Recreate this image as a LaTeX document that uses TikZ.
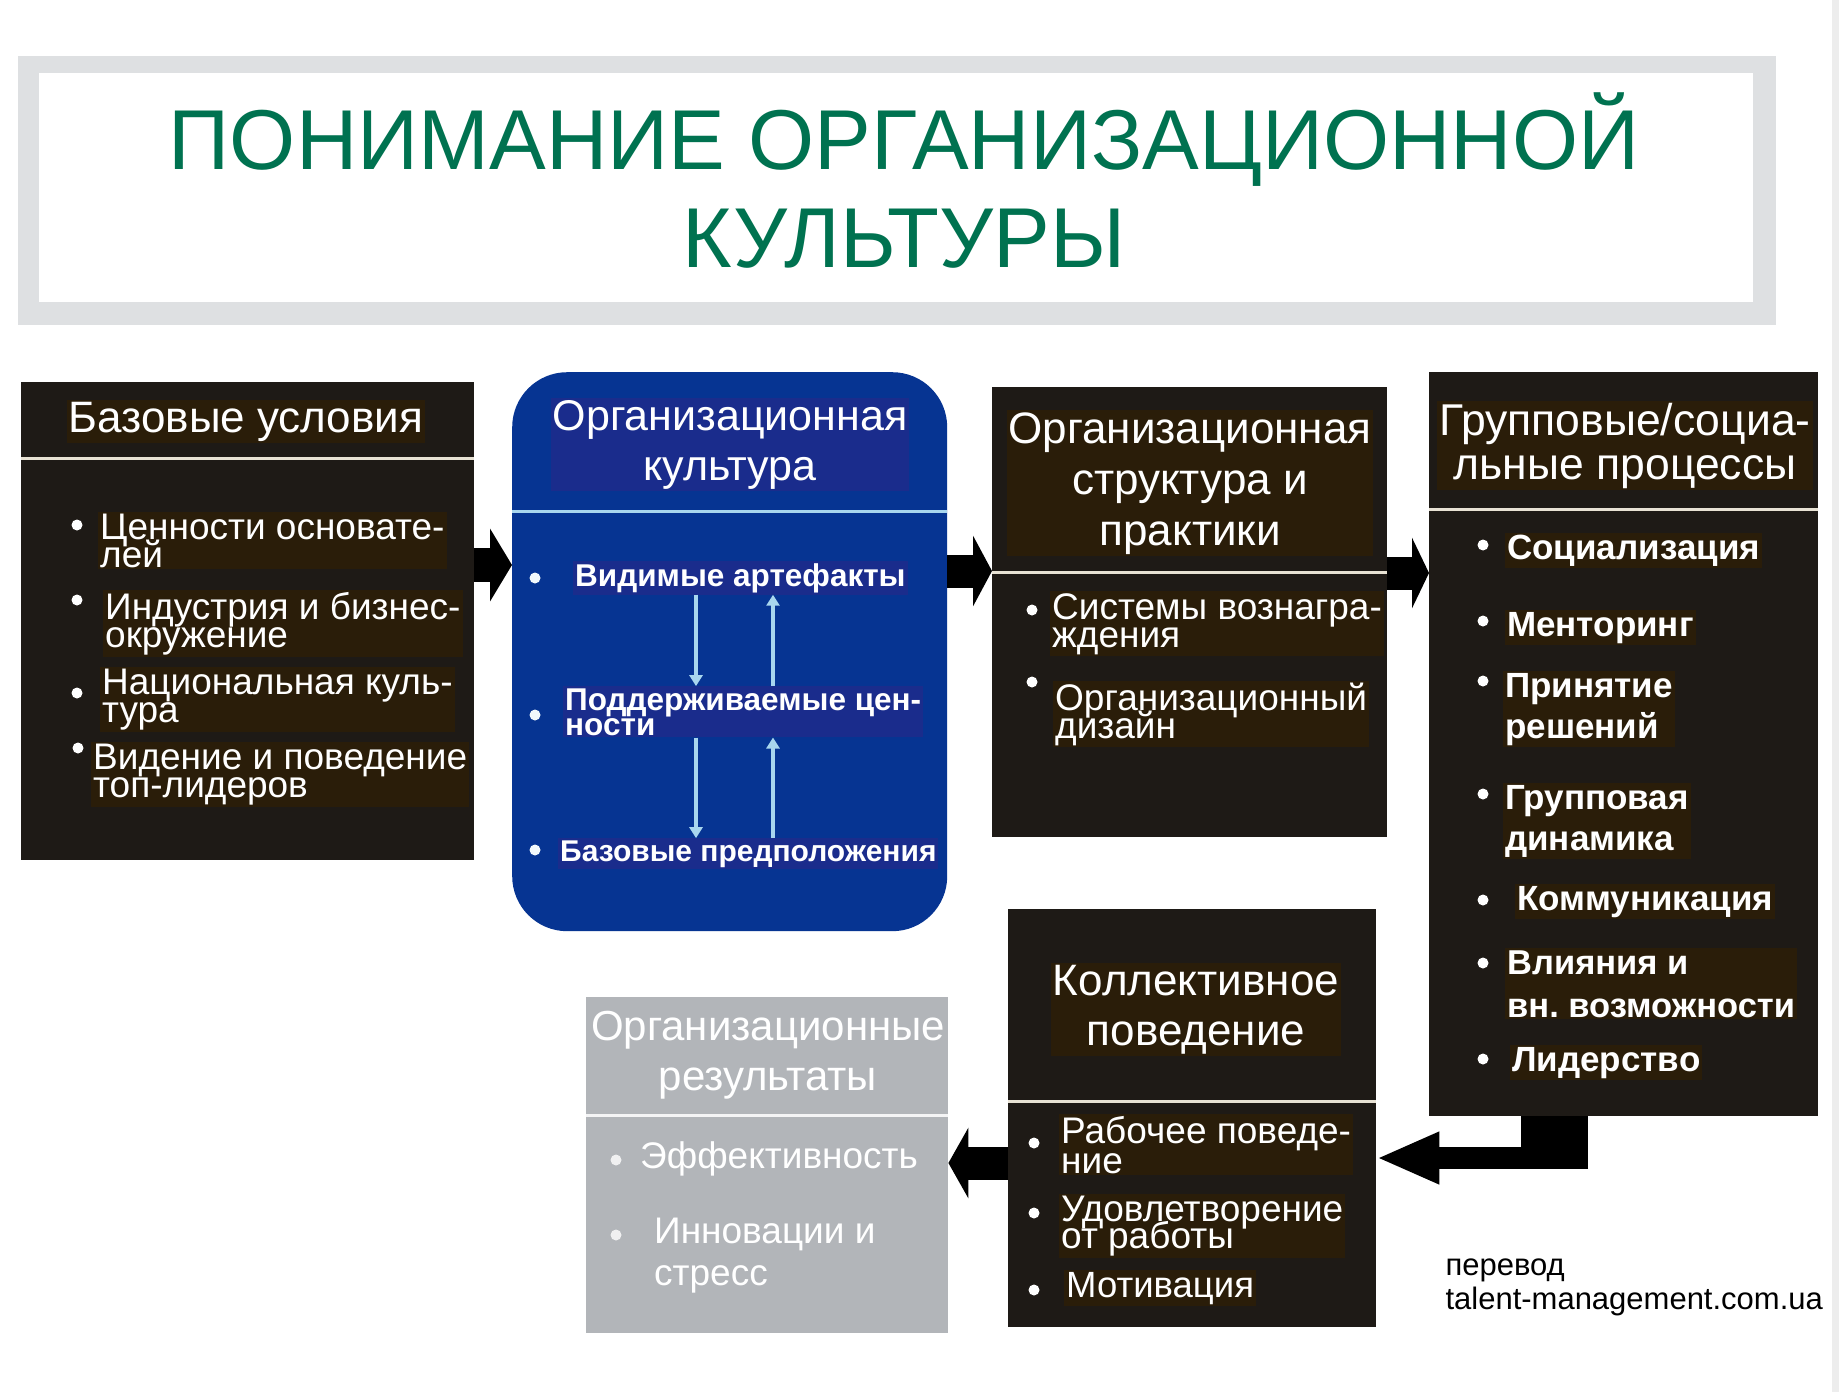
\documentclass[tikz,border=0pt]{standalone}
\usepackage{fontspec}
\setmainfont{Liberation Sans}
\usetikzlibrary{arrows.meta}

\definecolor{boxdark}{RGB}{30,26,22}
\definecolor{txtdark}{RGB}{42,29,9}
\definecolor{cultblue}{RGB}{6,52,146}
\definecolor{txtblue}{RGB}{26,44,140}
\definecolor{resgray}{RGB}{178,181,185}
\definecolor{titlegreen}{RGB}{0,114,80}
\definecolor{framegray}{RGB}{222,224,226}
\definecolor{arrowblue}{RGB}{168,214,238}
\definecolor{sepdark}{RGB}{232,226,212}

\newcommand{\setfs}[2]{\fontsize{#1}{#2}\selectfont\lineskiplimit=-200pt\relax}

\tikzset{
  darkbox/.style={fill=boxdark,inner sep=0pt,anchor=north west},
  hdr/.style={text=white,fill=txtdark,inner sep=2pt,align=center,anchor=base},
  item/.style={text=white,fill=txtdark,inner sep=2pt,align=left,anchor=base west,font=\setfs{37}{28}},
  blueitem/.style={item,fill=txtblue,font=\bfseries\setfs{31.5}{25}},
  groupitem/.style={item,font=\bfseries\setfs{35}{41}},
  sepline/.style={line width=3pt,sepdark},
  fatarrow/.style={line width=34pt,-{Triangle[length=22pt,width=72pt]}},
  thinarrow/.style={line width=3.5pt,arrowblue,-{Triangle[length=11pt,width=13pt]}}
}

\begin{document}
\begin{tikzpicture}[x=1pt,y=-1pt]
\useasboundingbox (0,0) rectangle (1839,1392);
\fill[white] (0,0) rectangle (1839,1392);
\fill[black!7] (1832,0) rectangle (1839,1392);

% Title
\fill[framegray] (18,56) rectangle (1776,325);
\fill[white] (39,73) rectangle (1753,302);
\node[anchor=base,align=center,text=titlegreen,font=\setfs{85}{98}] (title) at (904,267)
  {ПОНИМАНИЕ ОРГАНИЗАЦИОННОЙ\\КУЛЬТУРЫ};

% Boxes
\node[darkbox,minimum width=453pt,minimum height=478pt] (basic) at (21,382) {};
\node[fill=cultblue,rounded corners=55pt,inner sep=0pt,anchor=north west,
  minimum width=435pt,minimum height=559pt] (culture) at (512,372) {};
\node[darkbox,minimum width=395pt,minimum height=450pt] (struct) at (992,387) {};
\node[darkbox,minimum width=389pt,minimum height=744pt] (group) at (1429,372) {};
\node[darkbox,minimum width=368pt,minimum height=418pt] (collect) at (1008,909) {};
\node[fill=resgray,inner sep=0pt,anchor=north west,
  minimum width=362pt,minimum height=336pt] (result) at (586,997) {};

% Separators
\draw[sepline] (basic.west |- 0,458) -- (basic.east |- 0,458);
\draw[line width=3pt,arrowblue] (culture.west |- 0,511) -- (culture.east |- 0,511);
\draw[sepline] (struct.west |- 0,572) -- (struct.east |- 0,572);
\draw[sepline] (group.west |- 0,509) -- (group.east |- 0,509);
\draw[sepline] (collect.west |- 0,1101) -- (collect.east |- 0,1101);
\draw[line width=3pt,white!85!resgray] (result.west |- 0,1115) -- (result.east |- 0,1115);

% Headers (base = last line)
\node[hdr,font=\setfs{44}{50}] (basich) at (246,432) {Базовые условия};
\node[hdr,fill=txtblue,font=\setfs{43}{50}] (cultureh) at (730,480) {Организационная\\культура};
\node[hdr,font=\setfs{44}{51}] (structh) at (1190,545) {Организационная\\структура и\\практики};
\node[hdr,font=\setfs{44.5}{44}] (grouph) at (1625,479) {Групповые/социа-\\льные процессы};
\node[hdr,font=\setfs{44}{50}] (collecth) at (1196,1045) {Коллективное\\поведение};
\node[hdr,fill=none,font=\setfs{42}{50}] (resulth) at (768,1090) {Организационные\\результаты};

% Bullets
\foreach \bx/\by in {77/525,77/600,77/693,78/748,
  1032/610,1032/682,
  1483/545,1483/621,1483/681,1483/794,1483/900,1483/963,1483/1059,
  1034/1143,1034/1213,1034/1290}
  \fill[white] (\bx,\by) circle (5.5pt);
\foreach \by in {578,715,850}
  \fill[white!85!arrowblue] (535,\by) circle (5.5pt);
\foreach \by in {1160,1235}
  \fill[white!80!resgray] (616,\by) circle (5.5pt);

% Items: base conditions
\node[item] (founders) at (98,567) {Ценности основате-\\лей};
\node[item] (industry) at (103,647) {Индустрия и бизнес-\\окружение};
\node[item] (national) at (100,722) {Национальная куль-\\тура};
\node[item] (leaders) at (91,797) {Видение и поведение\\топ-лидеров};

% Items: culture
\node[blueitem] (art) at (573,586) {Видимые артефакты};
\node[blueitem] (vals) at (563,735) {Поддерживаемые цен-\\ности};
\node[blueitem,font=\bfseries\setfs{30}{25}] (assum) at (558,861) {Базовые предположения};

% Items: structure
\node[item] (reward) at (1050,647) {Системы вознагра-\\ждения};
\node[item] (design) at (1053,738) {Организационный\\дизайн};

% Items: group processes
\node[groupitem] (social) at (1505,559) {Социализация};
\node[groupitem] (mentor) at (1505,636) {Менторинг};
\node[groupitem] (decide) at (1503,738) {Принятие\\решений};
\node[groupitem] (dynam) at (1503,850) {Групповая\\динамика};
\node[groupitem] (comm) at (1515,910) {Коммуникация};
\node[groupitem,font=\bfseries\setfs{34.5}{43}] (power) at (1505,1017) {Влияния и\\вн.\ возможности};
\node[groupitem] (lead) at (1510,1071) {Лидерство};

% Items: collective behaviour
\node[item,font=\setfs{37}{30}] (work) at (1059,1173) {Рабочее поведе-\\ние};
\node[item,font=\setfs{37}{27}] (satisf) at (1059,1248) {Удовлетворение\\от работы};
\node[item,font=\setfs{36.5}{27}] (motiv) at (1064,1297) {Мотивация};

% Items: results
\node[item,fill=none,font=\setfs{37}{42}] (perf) at (638,1168) {Эффективность};
\node[item,fill=none,font=\setfs{37}{42}] (innov) at (652,1285) {Инновации и\\стресс};

% Arrows inside culture
\coordinate (dn) at (696,0);
\coordinate (up) at (773,0);
\draw[thinarrow] (art.south -| dn) -- (vals.north -| dn);
\draw[thinarrow] (vals.north -| up) -- (art.south -| up);
\draw[thinarrow] (vals.south -| dn) -- (assum.north -| dn);
\draw[thinarrow] (assum.north -| up) -- (vals.south -| up);

% Arrows between boxes
\coordinate (a1) at (0,565);
\coordinate (a2) at (0,571);
\coordinate (a3) at (0,573);
\coordinate (a5) at (0,1163);
\draw[fatarrow] (basic.east |- a1) -- (culture.west |- a1);
\draw[fatarrow,line width=33pt,-{Triangle[length=19pt,width=70pt]}] (culture.east |- a2) -- (struct.west |- a2);
\draw[fatarrow,line width=33pt,-{Triangle[length=17pt,width=70pt]}] (struct.east |- a3) -- (group.west |- a3);
\fill[black] (1521,1116) rectangle (1588,1169);
\coordinate (bend) at (1588,1158);
\draw[fatarrow,line width=22pt,-{Triangle[length=63pt,width=48pt]}] (bend) -- (collect.east |- bend);
\draw[fatarrow,line width=33pt,-{Triangle[length=20pt,width=70pt]}] (collect.west |- a5) -- (result.east |- a5);

% Credit
\node[anchor=base west,align=left,font=\setfs{31}{34}] (credit) at (1442,1309)
  {перевод\\talent-management.com.ua};
\end{tikzpicture}
\end{document}
